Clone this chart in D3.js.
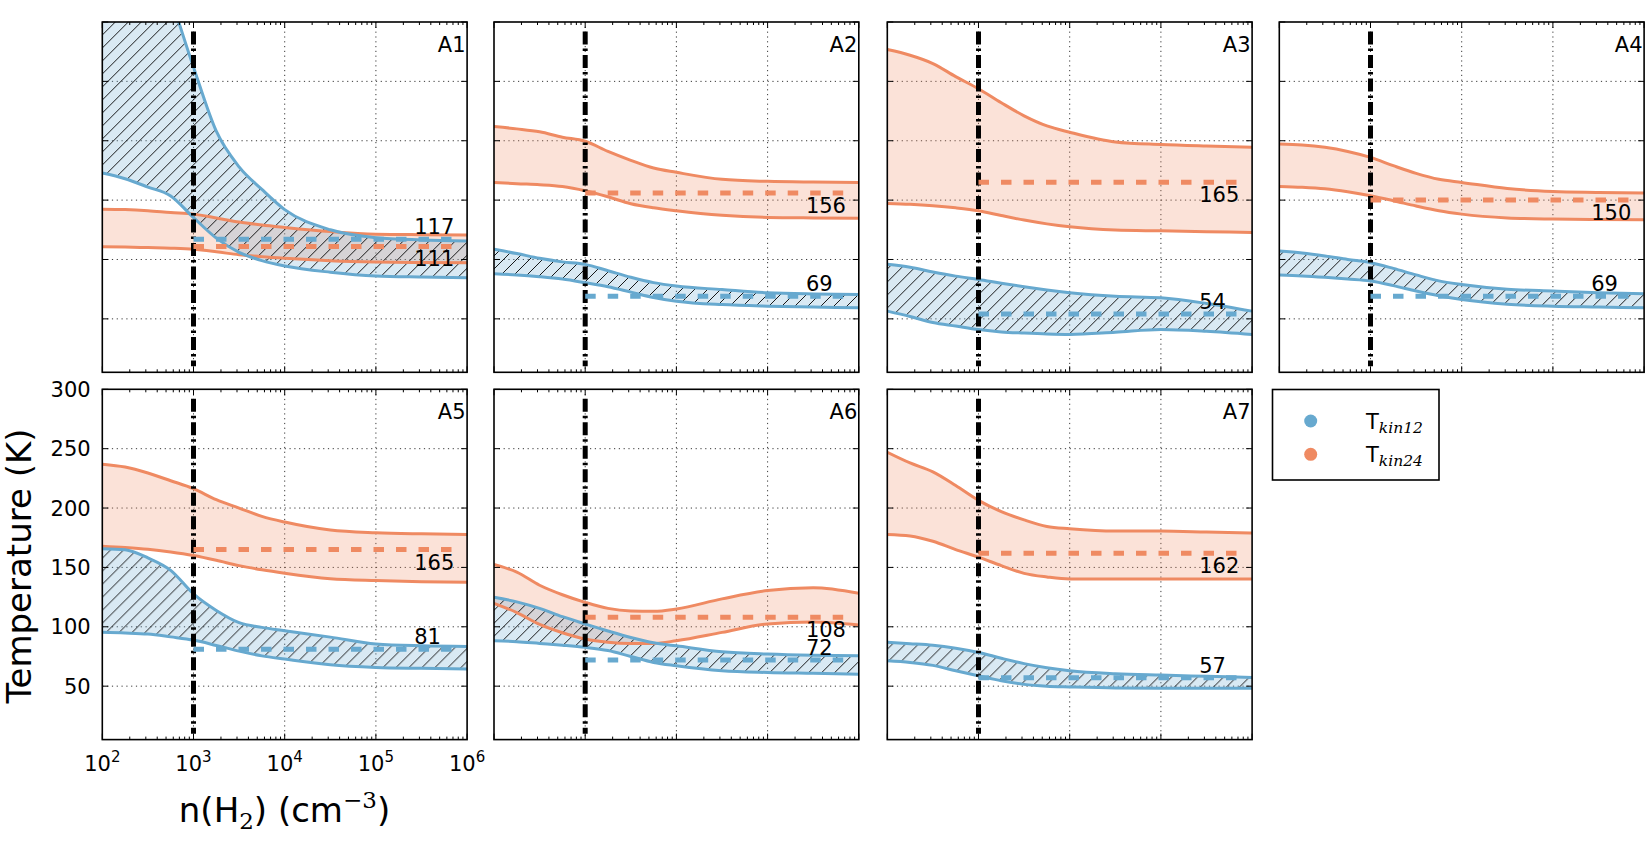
<!DOCTYPE html>
<html><head><meta charset="utf-8">
<script src="https://cdn.jsdelivr.net/npm/d3@7"></script>
<style>body{margin:0;background:#fff}svg{display:block}text{font-family:"DejaVu Sans",sans-serif;fill:#000}</style>
</head><body><svg id="c" width="1650" height="844"></svg>
<script>
// ---------- data ----------
const panelNames = ["A1","A2","A3","A4","A5","A6","A7"];
const densities = [100, 177.8, 316.2, 562.3, 1000, 1778, 3162, 5623, 10000, 31623, 100000, 316228, 1000000];
const t12Upper = [
 [480, 420, 370, 320, 262, 208, 178, 159, 142, 125, 118.4, 116.5, 115.6],
 [108.6, 105, 101, 98, 95.9, 90.5, 85, 80.5, 77.6, 74.7, 72, 71, 70.6],
 [95.9, 93.5, 89.5, 86, 83.2, 80, 77, 74.3, 72, 69, 67.7, 63, 56.5],
 [107.2, 105.5, 103, 100, 97.3, 92.5, 87, 82, 79, 75, 73.4, 72, 71.1],
 [165.7, 164.8, 158, 147.5, 127.7, 113.8, 103.5, 99.5, 96.7, 91.3, 85.5, 84, 83.5],
 [124.9, 121, 115.5, 108.5, 102.4, 96.5, 91, 86.5, 84, 79, 77, 76, 75.6],
 [86.9, 85.8, 84.5, 82, 78.4, 73.5, 69, 65.5, 63, 60.5, 59.3, 58.3, 57.3]
];
const t12Lower = [
 [172.8, 168, 161, 153.5, 135.3, 118, 106, 99, 94.5, 89.3, 86.1, 85.2, 84.6],
 [88, 87, 85.5, 83.5, 80.4, 77, 72.5, 68, 64.9, 62, 60.7, 60, 59.3],
 [56.5, 52, 47, 44, 41, 39, 38, 37.2, 36.8, 38.7, 41, 39.5, 36.8],
 [86.9, 86.2, 85, 83.5, 81.8, 78, 73.5, 69.5, 66.3, 62.3, 60.7, 60, 59.3],
 [95.3, 94.8, 93.9, 91.5, 88.8, 84.3, 79.5, 75.5, 72.8, 68, 65.8, 65, 64.4],
 [88.3, 87.5, 86, 84.5, 82.7, 80, 75, 70, 67.2, 63, 61.5, 60.8, 60.1],
 [71.4, 70, 67.5, 63, 58.7, 54.5, 51.5, 50, 49.4, 48.5, 48.3, 48.3, 48.3]
];
const t24Upper = [
 [142.4, 142, 141, 139.5, 138.2, 135, 131.5, 129, 127, 123.5, 121.3, 120.9, 120.7],
 [212, 210, 207.5, 203, 199.6, 191, 183.5, 177, 173.4, 167.5, 165.8, 165.2, 164.9],
 [276.8, 272, 265, 254, 243.8, 232, 221, 212.5, 207.2, 199, 196.8, 195.5, 194.5],
 [197.3, 196.5, 194.5, 191, 186, 179, 172.5, 167.5, 164.9, 159.7, 157.3, 156.5, 155.9],
 [236.9, 234.5, 229.5, 223, 216.3, 207, 200, 193, 188.2, 181.5, 179.2, 178.3, 177.8],
 [152.4, 146, 135, 127, 120.6, 115.5, 113.3, 113, 115, 123.5, 130.5, 132.8, 128.2],
 [247, 238, 230.5, 219, 206.5, 197, 190, 184.5, 182.6, 180.6, 180.6, 179.8, 178.9]
];
const t24Lower = [
 [110.8, 110.5, 110, 109.5, 108.6, 106.5, 104, 102.3, 101, 99, 97.9, 97.5, 97.3],
 [164.9, 163.8, 163, 161.5, 157.9, 152.8, 147, 143.5, 141, 137.2, 135.4, 135, 134.8],
 [147.2, 146.5, 145.3, 143.5, 141, 137, 133.2, 130, 127.5, 124.8, 124.1, 123.4, 122.7],
 [161.5, 160.8, 159.5, 157, 153.7, 149.5, 145, 141, 138.2, 135, 134, 133.6, 133.4],
 [167.9, 166.8, 165.3, 163, 160, 156, 151.5, 148, 145.1, 140.5, 138.9, 138, 137.5],
 [119.8, 112, 102, 95, 89.7, 87, 86, 86, 88.3, 95.3, 102.4, 104, 101.5],
 [177.8, 176.5, 172, 165, 158.6, 151.5, 145, 142, 140.3, 140.3, 140.3, 140.3, 140.3]
];
const median12 = [117, 69, 54, 69, 81, 72, 57];
const median24 = [111, 156, 165, 150, 165, 108, 162];
const medianRange = [1000, 760000];
const labelDensity = 263000;
const critDensity = 1000;
const critRange = [10, 292];
const yTicks = [50, 100, 150, 200, 250, 300];
const xTicks = [1e2, 1e3, 1e4, 1e5, 1e6];
const xTickExp = ["2", "3", "4", "5", "6"];
const legendLabels = [["T", "kin12"], ["T", "kin24"]];

// ---------- style / layout ----------
const blue = "#67a9cf", orange = "#ef8a62";
const cols = [102.3, 494, 887.3, 1279.3], rows = [22, 389.3];
const W = 364.8, H = 350.3;
const x = d3.scaleLog().domain([1e2, 1e6]).range([0, W]);
const y = d3.scaleLinear().domain([5, 300]).range([H, 0]);

const svg = d3.select("#c");
const defs = svg.append("defs");
const hatch = defs.append("pattern").attr("id", "hatch").attr("patternUnits", "userSpaceOnUse")
  .attr("width", 13).attr("height", 13);
hatch.append("path").attr("d", "M-1,14 L14,-1 M-4,4 L4,-4 M9,17 L17,9")
  .attr("stroke", "#000").attr("stroke-width", 0.9).attr("fill", "none");

const areaGen = (lo, hi) => d3.area().x((d, j) => x(densities[j]))
  .y0((d, j) => y(lo[j])).y1((d, j) => y(hi[j])).curve(d3.curveMonotoneX)(densities);
const lineGen = (v) => d3.line().x((d, j) => x(densities[j])).y((d, j) => y(v[j]))
  .curve(d3.curveMonotoneX)(densities);

panelNames.forEach((name, i) => {
  const r = i < 4 ? 0 : 1, c = i % 4;
  const g = svg.append("g").attr("transform", `translate(${cols[c]},${rows[r]})`);
  g.append("clipPath").attr("id", "clip" + i).append("rect").attr("width", W).attr("height", H);

  // grid
  const grid = g.append("g").attr("stroke", "#222").attr("stroke-width", 0.9).attr("stroke-dasharray", "1.2,3.6");
  xTicks.slice(1, -1).forEach(t => grid.append("line").attr("x1", x(t)).attr("x2", x(t)).attr("y1", 0).attr("y2", H));
  yTicks.slice(0, -1).forEach(t => grid.append("line").attr("x1", 0).attr("x2", W).attr("y1", y(t)).attr("y2", y(t)));

  const body = g.append("g").attr("clip-path", `url(#clip${i})`);
  body.append("path").attr("d", areaGen(t24Lower[i], t24Upper[i])).attr("fill", orange).attr("fill-opacity", 0.25);
  body.append("path").attr("d", areaGen(t12Lower[i], t12Upper[i])).attr("fill", blue).attr("fill-opacity", 0.25);
  body.append("path").attr("d", areaGen(t12Lower[i], t12Upper[i])).attr("fill", "url(#hatch)");
  [t24Upper[i], t24Lower[i]].forEach(v => body.append("path").attr("d", lineGen(v))
    .attr("fill", "none").attr("stroke", orange).attr("stroke-width", 3));
  [t12Upper[i], t12Lower[i]].forEach(v => body.append("path").attr("d", lineGen(v))
    .attr("fill", "none").attr("stroke", blue).attr("stroke-width", 3));

  // critical density line
  body.append("line").attr("x1", x(critDensity)).attr("x2", x(critDensity))
    .attr("y1", y(critRange[1])).attr("y2", y(critRange[0]))
    .attr("stroke", "#000").attr("stroke-width", 5).attr("stroke-dasharray", "13,4,2.5,4");

  // medians
  body.append("line").attr("x1", x(medianRange[0])).attr("x2", x(medianRange[1]))
    .attr("y1", y(median24[i])).attr("y2", y(median24[i]))
    .attr("stroke", orange).attr("stroke-width", 5).attr("stroke-dasharray", "10.5,12");
  body.append("line").attr("x1", x(medianRange[0])).attr("x2", x(medianRange[1]))
    .attr("y1", y(median12[i])).attr("y2", y(median12[i]))
    .attr("stroke", blue).attr("stroke-width", 5).attr("stroke-dasharray", "10.5,12");

  g.append("text").attr("x", x(labelDensity)).attr("y", y(median24[i]) + 20)
    .attr("font-size", 21).text(median24[i]);
  g.append("text").attr("x", x(labelDensity)).attr("y", y(median12[i]) - 5)
    .attr("font-size", 21).text(median12[i]);

  g.append("text").attr("x", W - 1.5).attr("y", 29.5).attr("text-anchor", "end")
    .attr("font-size", 21).text(name);

  // ticks
  const tk = g.append("g").attr("stroke", "#000").attr("stroke-width", 1);
  xTicks.forEach(t => {
    tk.append("line").attr("x1", x(t)).attr("x2", x(t)).attr("y1", H).attr("y2", H - 6);
    tk.append("line").attr("x1", x(t)).attr("x2", x(t)).attr("y1", 0).attr("y2", 6);
  });
  for (let k = 2; k < 6; k++) for (let m = 2; m < 10; m++) {
    const v = m * Math.pow(10, k);
    tk.append("line").attr("x1", x(v)).attr("x2", x(v)).attr("y1", H).attr("y2", H - 3);
    tk.append("line").attr("x1", x(v)).attr("x2", x(v)).attr("y1", 0).attr("y2", 3);
  }
  yTicks.forEach(t => {
    tk.append("line").attr("x1", 0).attr("x2", 6).attr("y1", y(t)).attr("y2", y(t));
    tk.append("line").attr("x1", W).attr("x2", W - 6).attr("y1", y(t)).attr("y2", y(t));
  });
  g.append("rect").attr("width", W).attr("height", H).attr("fill", "none")
    .attr("stroke", "#000").attr("stroke-width", 1.6);

  if (name === "A5") {
    yTicks.forEach(t => g.append("text").attr("x", -11.6).attr("y", y(t)).attr("dy", "0.36em")
      .attr("text-anchor", "end").attr("font-size", 21).text(t));
    xTicks.forEach((t, j) => {
      const tx = g.append("text").attr("x", x(t)).attr("y", H + 31).attr("text-anchor", "middle").attr("font-size", 21);
      tx.append("tspan").text("10");
      tx.append("tspan").attr("dy", -9).attr("font-size", 15).text(xTickExp[j]);
    });
  }
});

// axis labels
svg.append("text").attr("transform", "translate(31,566) rotate(-90)").attr("text-anchor", "middle")
  .attr("font-size", 34).text("Temperature (K)");
const xl = svg.append("text").attr("x", 284.5).attr("y", 822).attr("text-anchor", "middle").attr("font-size", 34);
xl.append("tspan").text("n(H");
xl.append("tspan").attr("dy", 7).attr("font-size", 23).attr("font-family", "DejaVu Serif").text("2");
xl.append("tspan").attr("dy", -7).text(") (cm");
xl.append("tspan").attr("dy", -14).attr("font-size", 23).attr("font-family", "DejaVu Serif").text("−3");
xl.append("tspan").attr("dy", 14).text(")");

// legend
const lg = svg.append("g");
lg.append("rect").attr("x", 1272.5).attr("y", 389.5).attr("width", 166.5).attr("height", 90.5)
  .attr("fill", "#fff").attr("stroke", "#000").attr("stroke-width", 1.6);
[blue, orange].forEach((col, j) => {
  const cy = 421 + j * 33.3;
  lg.append("circle").attr("cx", 1310.7).attr("cy", cy).attr("r", 6.5).attr("fill", col);
  const t = lg.append("text").attr("x", 1366).attr("y", cy + 7.5).attr("font-size", 21);
  t.append("tspan").text(legendLabels[j][0]);
  t.append("tspan").attr("dy", 4.5).attr("font-size", 15.5).attr("font-family", "DejaVu Serif")
    .attr("font-style", "italic").text(legendLabels[j][1]);
});
</script></body></html>
